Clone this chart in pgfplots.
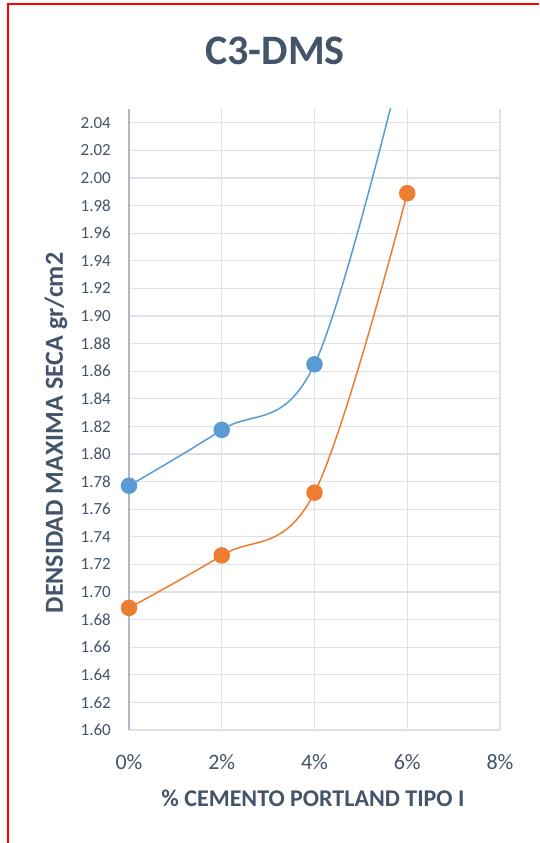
\documentclass[border=0pt]{standalone}
\usepackage{pgfplots}
\pgfplotsset{compat=1.18}
\usepackage{fontspec}
\setmainfont{Carlito}
\definecolor{txt}{HTML}{44546A}
\definecolor{gridc}{HTML}{DDE1E8}
\definecolor{axc}{HTML}{AEB8C9}
\definecolor{sblue}{HTML}{5B9BD5}
\definecolor{sorange}{HTML}{ED7D31}
\begin{document}
\begin{tikzpicture}
\useasboundingbox (0,0) rectangle (539pt,843pt);
\fill[white] (0,0) rectangle (539pt,843pt);
\draw[red, line width=2pt] (7.5pt,0) -- (7.5pt,839pt) -- (539pt,839pt);
\begin{axis}[
  at={(129pt,113pt)}, anchor=south west,
  scale only axis, width=371pt, height=621pt,
  xmin=0, xmax=8, ymin=1.60, ymax=2.05,
  xtick={0,2,4,6,8}, xticklabels={0\%,2\%,4\%,6\%,8\%},
  ytick={1.60,1.62,...,2.05},
  grid=major, grid style={draw=gridc, line width=1.3pt},
  axis lines*=left,
  x axis line style={-, draw=gridc, line width=1.3pt},
  y axis line style={-, draw=axc, line width=1.5pt},
  major tick length=0pt,
  /pgf/number format/assume math mode=true,
  /pgf/number format/.cd, fixed, fixed zerofill, precision=2,
  /pgfplots/.cd,
  yticklabel style={anchor=east, inner sep=0pt, xshift=-18pt, text=txt, font=\fontsize{17}{20}\selectfont},
  xticklabel style={anchor=center, inner sep=0pt, yshift=-32pt, text=txt, font=\fontsize{22}{26}\selectfont},
]
\addplot[sblue, line width=1.5pt, smooth, tension=0.6, mark=*, mark size=7.5pt, mark options={draw=none, fill=sblue}]
  coordinates {(0,1.777) (2,1.8175) (4,1.865) (6,2.10)};
\addplot[sorange, line width=1.5pt, smooth, tension=0.6, mark=*, mark size=7.5pt, mark options={draw=none, fill=sorange}]
  coordinates {(0,1.6885) (2,1.7265) (4,1.772) (6,1.989)};
\end{axis}
\node[text=txt, font=\fontsize{42}{48}\selectfont\bfseries] at (275pt,792pt) {C3-DMS};
\node[text=txt, font=\fontsize{24}{28}\selectfont\bfseries] at (313pt,45pt) {\% CEMENTO PORTLAND TIPO I};
\node[text=txt, font=\fontsize{26}{30}\selectfont\bfseries, rotate=90] at (56pt,410pt) {DENSIDAD MAXIMA SECA gr/cm2};
\end{tikzpicture}
\end{document}
